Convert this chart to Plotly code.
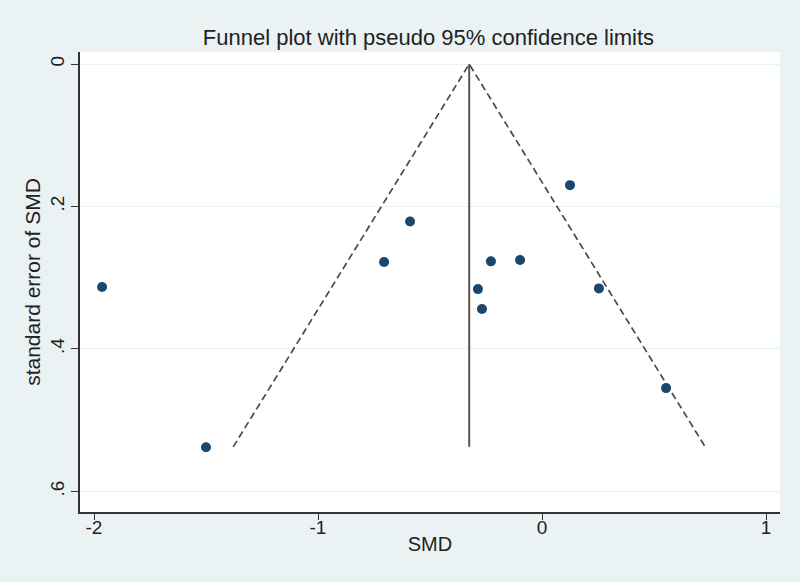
import plotly.graph_objects as go

# Study data
smd = [-1.964, -1.50, -0.705, -0.589, -0.286, -0.268, -0.228, -0.098, 0.125, 0.254, 0.554]
se_smd = [0.313, 0.538, 0.278, 0.221, 0.316, 0.344, 0.277, 0.275, 0.170, 0.315, 0.455]

pooled_smd = -0.325
se_max = 0.5375
z95 = 1.96

x_ticks = [-2, -1, 0, 1]
x_tick_labels = ["-2", "-1", "0", "1"]
y_ticks = [0, 0.2, 0.4, 0.6]
y_tick_labels = ["0", ".2", ".4", ".6"]

navy = "#1a476f"
line_col = "#4a4a4a"

fig = go.Figure()

# Pseudo 95% confidence limits (dashed)
fig.add_trace(go.Scatter(
    x=[pooled_smd - z95 * se_max, pooled_smd, pooled_smd + z95 * se_max],
    y=[se_max, 0, se_max],
    mode="lines",
    line=dict(color=line_col, width=1.7, dash="7px,4px"),
    hoverinfo="skip", showlegend=False))

# Pooled estimate line
fig.add_trace(go.Scatter(
    x=[pooled_smd, pooled_smd], y=[0, se_max],
    mode="lines", line=dict(color="#5a5450", width=2),
    hoverinfo="skip", showlegend=False))

# Studies
fig.add_trace(go.Scatter(
    x=smd, y=se_smd, mode="markers",
    marker=dict(color=navy, size=10, symbol="circle"),
    showlegend=False))

font_family = "Liberation Sans, Arial, sans-serif"

fig.update_layout(
    width=800, height=582,
    paper_bgcolor="#eaf2f3",
    plot_bgcolor="#ffffff",
    margin=dict(l=80, r=20, t=52, b=70),
    font=dict(family=font_family, color="#222222", size=19),
    title=dict(text="Funnel plot with pseudo 95% confidence limits",
               x=0.5356, xanchor="center", y=0.936, yanchor="middle",
               font=dict(size=22, color="#222222")),
)

fig.update_xaxes(
    range=[-2.0625, 1.0625],
    tickvals=x_ticks, ticktext=x_tick_labels,
    ticks="outside", ticklen=6, tickwidth=1.2, tickcolor="#333333",
    showline=True, linecolor="#333333", linewidth=1.5,
    showgrid=False, zeroline=False,
    ticklabelstandoff=-9,
    title=dict(text="SMD", font=dict(size=20), standoff=0),
    tickfont=dict(size=19),
)

fig.update_yaxes(
    range=[0.629, -0.017],
    tickvals=y_ticks, ticktext=y_tick_labels,
    tickangle=-90,
    ticks="outside", ticklen=7, tickwidth=1.2, tickcolor="#333333",
    showline=True, linecolor="#333333", linewidth=1.5,
    showgrid=True, gridcolor="#eaf2f3", gridwidth=1,
    zeroline=False,
    title=dict(text="standard error of SMD", font=dict(size=21), standoff=0),
    tickfont=dict(size=19),
)

fig.write_html("out.html", config={"displayModeBar": False},
               post_script="document.body.style.margin='0';")
